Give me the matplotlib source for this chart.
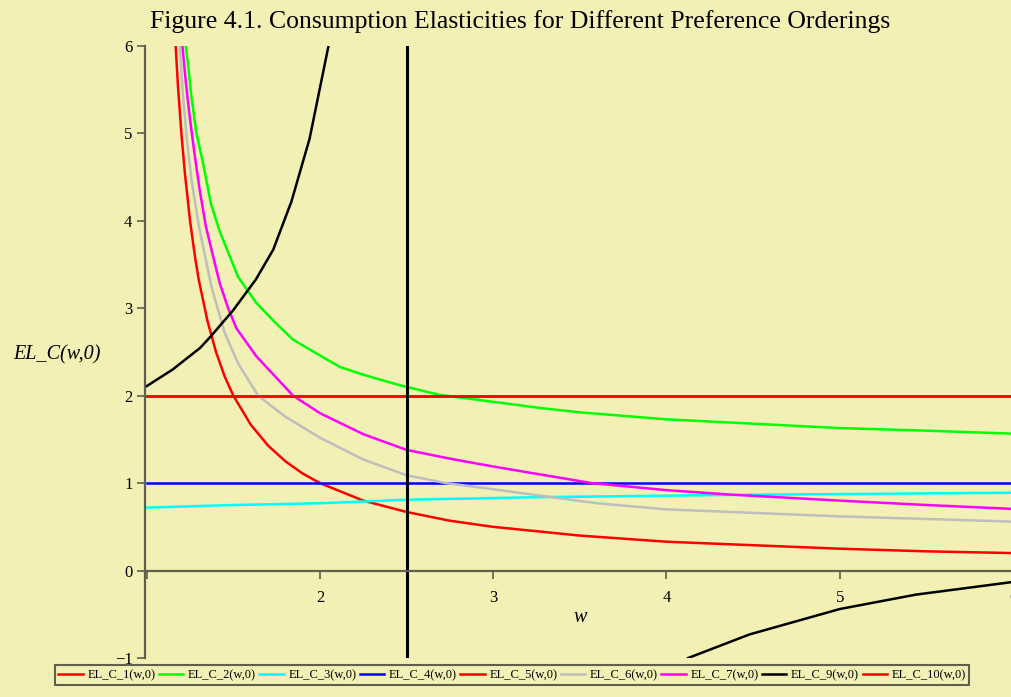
import matplotlib
matplotlib.use('Agg')
import matplotlib.pyplot as plt

plt.rcParams['font.family'] = ['Liberation Serif', 'DejaVu Serif']

# values
w1 = [1.167, 1.18, 1.2, 1.22, 1.25, 1.28, 1.3, 1.35, 1.4, 1.45, 1.5, 1.6, 1.7, 1.8, 1.9, 2.0, 2.25, 2.5, 2.75, 3.0, 3.5, 4.0, 4.5, 5.0, 5.5, 6.0]
el1 = [6.0, 5.55, 5.0, 4.55, 4.0, 3.57, 3.33, 2.86, 2.5, 2.22, 2.0, 1.67, 1.43, 1.25, 1.11, 1.0, 0.8, 0.67, 0.57, 0.5, 0.4, 0.33, 0.29, 0.25, 0.22, 0.2]

w2 = [1.225, 1.238, 1.258, 1.287, 1.325, 1.37, 1.421, 1.527, 1.633, 1.745, 1.845, 2.0, 2.114, 2.25, 2.46, 2.69, 3.0, 3.27, 3.5, 4.0, 4.5, 5.0, 5.5, 6.0]
el2 = [6.0, 5.8, 5.42, 5.0, 4.66, 4.2, 3.88, 3.36, 3.06, 2.83, 2.64, 2.46, 2.33, 2.24, 2.12, 2.01, 1.93, 1.86, 1.81, 1.73, 1.68, 1.63, 1.6, 1.566]

w3 = [1.0, 1.5, 2.0, 2.5, 3.27, 4.36, 5.0, 6.0]
el3 = [0.72, 0.75, 0.77, 0.81, 0.84, 0.865, 0.875, 0.89]

w4 = [1.0, 6.0]
el4 = [1.0, 1.0]

w5 = [1.0, 6.0]
el5 = [2.0, 2.0]

w6 = [1.19, 1.21, 1.233, 1.258, 1.277, 1.30, 1.373, 1.45, 1.527, 1.643, 1.8, 2.0, 2.25, 2.5, 2.73, 3.0, 3.26, 3.6, 4.0, 4.5, 5.0, 5.5, 6.0]
el6 = [6.0, 5.42, 4.9, 4.47, 4.24, 3.95, 3.25, 2.72, 2.37, 2.0, 1.76, 1.52, 1.27, 1.09, 1.0, 0.93, 0.86, 0.77, 0.70, 0.66, 0.62, 0.59, 0.56]

w7 = [1.206, 1.225, 1.248, 1.277, 1.306, 1.34, 1.364, 1.421, 1.47, 1.518, 1.633, 1.845, 2.0, 2.25, 2.5, 2.75, 3.0, 3.27, 3.57, 4.0, 4.36, 5.0, 5.5, 6.0]
el7 = [6.0, 5.6, 5.19, 4.75, 4.35, 3.95, 3.75, 3.29, 3.0, 2.77, 2.45, 2.0, 1.80, 1.56, 1.38, 1.28, 1.19, 1.10, 1.0, 0.92, 0.87, 0.80, 0.75, 0.705]

w9a = [1.0, 1.15, 1.31, 1.37, 1.5, 1.63, 1.73, 1.835, 1.94, 2.05]
el9a = [2.11, 2.30, 2.55, 2.68, 2.98, 3.33, 3.67, 4.22, 4.94, 6.01]
w9b = [4.125, 4.48, 5.0, 5.44, 6.0]
el9b = [-1.0, -0.73, -0.44, -0.275, -0.13]

w10 = [1.0, 6.0]
el10 = [2.0, 2.0]

w_mark = 2.5

bg = '#f2f0b4'
axcol = '#5f5f4c'

fig = plt.figure(figsize=(10.11, 6.97), dpi=100, facecolor=bg)
ax = fig.add_axes([145/1011, 1-658/697, 868/1011, 612/697])
ax.set_facecolor(bg)

lw = 1.8
ax.plot(w1, el1, color='#ff0000', lw=lw, label='EL_C_1(w,0)')
ax.plot(w2, el2, color='#00ff00', lw=lw, label='EL_C_2(w,0)')
ax.plot(w3, el3, color='#00ffff', lw=lw, label='EL_C_3(w,0)')
ax.plot(w4, el4, color='#0000ff', lw=lw, label='EL_C_4(w,0)')
ax.plot(w5, el5, color='#ff0000', lw=lw, label='EL_C_5(w,0)')
ax.plot(w6, el6, color='#bebebe', lw=lw, label='EL_C_6(w,0)')
ax.plot(w7, el7, color='#ff00ff', lw=lw, label='EL_C_7(w,0)')
ax.plot(w9a, el9a, color='black', lw=lw, label='EL_C_9(w,0)')
ax.plot(w9b, el9b, color='black', lw=lw)
ax.plot(w10, el10, color='#ff0000', lw=lw, label='EL_C_10(w,0)')
ax.axvline(w_mark, color='black', lw=2.2)

ax.set_xlim(0.99, 6.0)
ax.set_ylim(-1, 6)

ax.spines['top'].set_visible(False)
ax.spines['right'].set_visible(False)
ax.spines['bottom'].set_position(('data', 0))
for s in ['left', 'bottom']:
    ax.spines[s].set_color(axcol)
    ax.spines[s].set_linewidth(1.6)

ax.set_xticks([1, 2, 3, 4, 5, 6])
ax.set_xticklabels(['', '2', '3', '4', '5', '6'])
ax.set_yticks([-1, 0, 1, 2, 3, 4, 5, 6])
ax.set_yticklabels(['\u22121', '0', '1', '2', '3', '4', '5', '6'])
ax.tick_params(axis='x', direction='out', length=6, width=1.2, color=axcol, pad=8, labelsize=12)
ax.tick_params(axis='y', direction='out', length=6, width=1.2, color=axcol, pad=3, labelsize=12)

fig.text(520/1011, 1-22/697, 'Figure 4.1. Consumption Elasticities for Different Preference Orderings',
         ha='center', va='center', fontsize=18.5)
fig.text(57/1011, 1-355/697, 'EL_C(w,0)', ha='center', va='center', fontsize=14.5, style='italic')
fig.text(580/1011, 1-617/697, 'w', ha='center', va='center', fontsize=14.5, style='italic')

leg = fig.legend(loc='center', bbox_to_anchor=(512/1011, 1-675/697), ncol=9, fontsize=9,
                 handlelength=1.95, handletextpad=0.35, columnspacing=0.3, borderpad=0.3,
                 borderaxespad=0.2, fancybox=False, framealpha=1)
leg.get_frame().set_facecolor(bg)
leg.get_frame().set_edgecolor(axcol)
leg.get_frame().set_linewidth(1.5)

fig.savefig('out.png', dpi=100, facecolor=bg)
